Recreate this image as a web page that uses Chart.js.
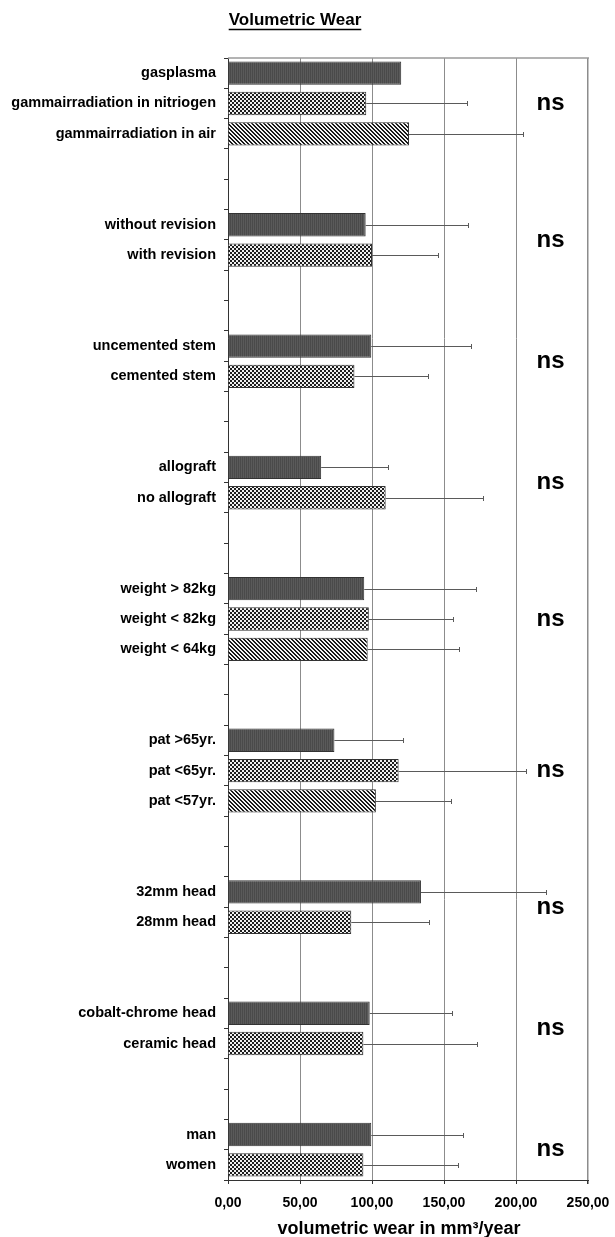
<!DOCTYPE html>
<html>
<head>
<meta charset="utf-8">
<script src="https://cdn.jsdelivr.net/npm/chart.js@4.4.1/dist/chart.umd.min.js"></script>
<style>
body { margin: 0; background: #fff; }
</style>
</head>
<body>
<canvas id="chart" width="615" height="1237"></canvas>
<script>
// ----------------------------------------------------------------------
//	data (empty label = spacer row)
// ----------------------------------------------------------------------
const categories = ["gasplasma", "gammairradiation in nitriogen", "gammairradiation in air", "", "",
	"without revision", "with revision", "", "",
	"uncemented stem", "cemented stem", "", "",
	"allograft", "no allograft", "", "",
	"weight > 82kg", "weight < 82kg", "weight < 64kg", "", "",
	"pat >65yr.", "pat <65yr.", "pat <57yr.", "", "",
	"32mm head", "28mm head", "", "",
	"cobalt-chrome head", "ceramic head", "", "",
	"man", "women"]

const wear = [120.3, 96, 125.7, null, null,
	95.6, 100, null, null,
	99.5, 87.8, null, null,
	64.7, 109.5, null, null,
	94.6, 97.8, 97, null, null,
	73.9, 118.5, 102.7, null, null,
	134, 85.6, null, null,
	98.4, 94, null, null,
	99.5, 94]

const sd = [null, 70, 79.3, null, null,
	71.4, 46, null, null,
	69, 50.8, null, null,
	46.2, 67.9, null, null,
	77.4, 58.5, 63.3, null, null,
	47.8, 88.5, 52.2, null, null,
	87, 53.8, null, null,
	57, 79, null, null,
	64, 66]

const x_ticks = [0, 50, 100, 150, 200, 250]
const sig_label = "ns"
const sig_at = 224
const chart_title = "Volumetric Wear"
const axis_title = "volumetric wear in mm³/year"

const FONT = "'Liberation Sans', Arial, sans-serif"

// ----------------------------------------------------------------------
function make_pattern(kind)
{
	const cv = document.createElement("canvas")
	cv.width = 4
	cv.height = 4
	const c = cv.getContext("2d")
	if (kind == 0)
		{
		c.fillStyle = "#5a5a5a"
		c.fillRect(0, 0, 4, 4)
		c.fillStyle = "#4a4a4a"
		c.fillRect(0, 0, 1, 4)
		c.fillRect(2, 0, 1, 4)
		}
	else if (kind == 1)
		{
		c.fillStyle = "#1e1e1e"
		c.fillRect(0, 0, 4, 4)
		c.fillStyle = "#f0f0f0"
		c.fillRect(0, 0, 2, 2)
		c.fillRect(2, 2, 2, 2)
		}
	else
		{
		c.fillStyle = "#f4f4f4"
		c.fillRect(0, 0, 4, 4)
		c.fillStyle = "#1a1a1a"
		for (let y = 0; y < 4; y++)
			for (let x = 0; x < 4; x++)
				if (((x - y) % 4 + 4) % 4 < 2) c.fillRect(x, y, 1, 1)
		}
	return c.createPattern(cv, "repeat")
}

// ----------------------------------------------------------------------
function build_fills()
{
	const pats = [make_pattern(0), make_pattern(1), make_pattern(2)]
	const fills = []
	let pos = 0
	for (let it = 0; it < categories.length; it++)
		{
		if (categories[it] == "")
			{
			pos = 0
			fills.push("rgba(0,0,0,0)")
			}
		else
			{
			fills.push(pats[pos % 3])
			pos += 1
			}
		}
	return fills
}

// ----------------------------------------------------------------------
function find_groups()
{
	const groups = []
	let start = -1
	for (let it = 0; it <= categories.length; it++)
		{
		const filled = it < categories.length && categories[it] != ""
		if (filled && start < 0) start = it
		if (!filled && start >= 0)
			{
			groups.push([start, it - 1])
			start = -1
			}
		}
	return groups
}

// ----------------------------------------------------------------------
const extras = {
	id: "extras",
	afterDatasetsDraw(chart)
	{
		const ctx = chart.ctx
		const xs = chart.scales.x
		const ys = chart.scales.y
		const area = chart.chartArea
		const meta = chart.getDatasetMeta(0)

		ctx.save()
		// error bars
		ctx.strokeStyle = "#5a5a5a"
		ctx.lineWidth = 1
		meta.data.forEach(function (bar, i)
			{
			if (sd[i] == null || wear[i] == null) return
			const x0 = xs.getPixelForValue(wear[i])
			const x1 = Math.round(xs.getPixelForValue(wear[i] + sd[i])) + 0.5
			const y = Math.round(bar.y) + 0.5
			ctx.beginPath()
			ctx.moveTo(x0, y)
			ctx.lineTo(x1, y)
			ctx.moveTo(x1, y - 2.5)
			ctx.lineTo(x1, y + 2.5)
			ctx.stroke()
			})

		// top border
		ctx.strokeStyle = "#9a9a9a"
		ctx.lineWidth = 1.5
		ctx.beginPath()
		ctx.moveTo(area.left, area.top)
		ctx.lineTo(area.right + 1, area.top)
		ctx.stroke()

		// "ns" per group
		ctx.fillStyle = "#000"
		ctx.font = "bold 24px " + FONT
		ctx.textAlign = "center"
		ctx.textBaseline = "middle"
		find_groups().forEach(function (g)
			{
			const y = (ys.getPixelForValue(g[0]) + ys.getPixelForValue(g[1])) / 2
			ctx.fillText(sig_label, xs.getPixelForValue(sig_at), y)
			})

		// axis title
		ctx.font = "bold 18px " + FONT
		ctx.fillText(axis_title, 399, 1229)

		// title, underlined
		ctx.font = "bold 17px " + FONT
		const tx = 295
		const ty = 20
		ctx.fillText(chart_title, tx, ty)
		const w = ctx.measureText(chart_title).width
		ctx.strokeStyle = "#000"
		ctx.lineWidth = 1.5
		ctx.beginPath()
		ctx.moveTo(tx - w / 2, ty + 9.5)
		ctx.lineTo(tx + w / 2, ty + 9.5)
		ctx.stroke()
		ctx.restore()
	}
}

// ----------------------------------------------------------------------
const config = {
	type: "bar",
	data: {
		labels: categories,
		datasets: [{
			data: wear,
			backgroundColor: build_fills(),
			borderColor: "#333",
			borderWidth: 1,
			barPercentage: 0.77,
			categoryPercentage: 1
			}]
		},
	options: {
		indexAxis: "y",
		responsive: false,
		animation: false,
		devicePixelRatio: 1,
		layout: { padding: { top: 58, right: 27, left: 0, bottom: 0 } },
		plugins: { legend: { display: false }, tooltip: { enabled: false }, title: { display: false } },
		scales: {
			x: {
				min: 0,
				max: 250,
				afterFit: function (scale)
					{
					scale.height = 57
					scale.paddingLeft = 0
					scale.paddingRight = 0
					},
				afterBuildTicks: function (scale) { scale.ticks = x_ticks.map(v => ({ value: v })) },
				grid: {
					color: "#8c8c8c",
					lineWidth: ctx => (ctx.tick && ctx.tick.value == 250) ? 1.5 : 1,
					tickLength: 4,
					tickColor: "#333"
					},
				border: { color: "#333", width: 1 },
				ticks: {
					color: "#000",
					padding: 11,
					font: { family: FONT, size: 14, weight: "bold" },
					callback: v => v.toFixed(2).replace(".", ",")
					}
				},
			y: {
				afterFit: function (scale) { scale.width = 228 },
				grid: {
					offset: true,
					drawOnChartArea: false,
					tickLength: 4,
					color: "#333"
					},
				border: { color: "#333", width: 1 },
				ticks: {
					autoSkip: false,
					color: "#000",
					padding: 8,
					font: { family: FONT, size: 14.5, weight: "bold" },
					callback: (v, i) => categories[i]
					}
				}
			}
		},
	plugins: [extras]
	}

const chart = new Chart(document.getElementById("chart"), config)
</script>
</body>
</html>
